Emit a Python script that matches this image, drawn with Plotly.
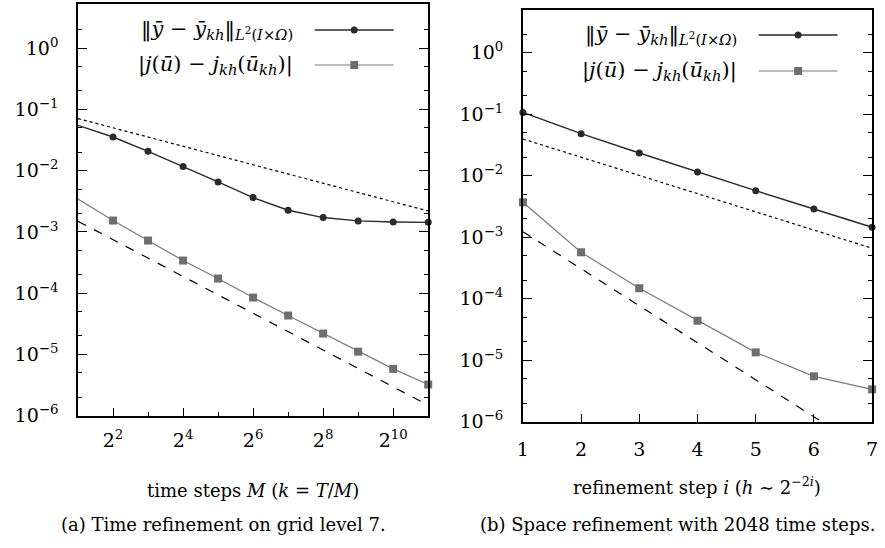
import plotly.graph_objects as go
from plotly.subplots import make_subplots

# ---------------- data ----------------
M_steps = [2, 4, 8, 16, 32, 64, 128, 256, 512, 1024, 2048]
err_y_time = [0.0548, 0.0353, 0.0206, 0.0117, 0.00652, 0.00362, 0.00225,
              0.00171, 0.00151, 0.00145, 0.00143]
err_j_time = [0.00344, 0.00153, 0.000721, 0.000340, 0.000173, 8.47e-5,
              4.31e-5, 2.19e-5, 1.11e-5, 5.81e-6, 3.23e-6]
ref_half_time_x = [2, 2048]
ref_half_time_y = [0.0705, 0.00219]
ref_one_time_x = [2, 2048]
ref_one_time_y = [0.00149, 1.48e-6]

i_steps = [1, 2, 3, 4, 5, 6, 7]
err_y_space = [0.107, 0.0482, 0.0234, 0.0115, 0.00571, 0.00287, 0.00145]
err_j_space = [0.00369, 0.000568, 0.000148, 4.39e-5, 1.34e-5, 5.47e-6, 3.36e-6]
ref_half_space_x = [1, 7]
ref_half_space_y = [0.0395, 0.00066]
ref_one_space_x = [1, 7]
ref_one_space_y = [0.00123, 3.0e-7]

x_time_ticks = [4, 16, 64, 256, 1024]
x_time_ticktext = ["2<sup>2</sup>", "2<sup>4</sup>", "2<sup>6</sup>", "2<sup>8</sup>", "2<sup>10</sup>"]
x_time_minor = [8, 32, 128, 512]
x_space_ticks = [1, 2, 3, 4, 5, 6, 7]
y_ticks = [1e-6, 1e-5, 1e-4, 1e-3, 1e-2, 1e-1, 1]
y_ticktext = ["10<sup>−6</sup>", "10<sup>−5</sup>", "10<sup>−4</sup>", "10<sup>−3</sup>",
              "10<sup>−2</sup>", "10<sup>−1</sup>", "10<sup>0</sup>"]

legend_labels = [
    "‖<i>ȳ</i> − <i>ȳ<sub>kh</sub></i>‖<sub><i>L</i><sup>2</sup>(<i>I</i>×<i>Ω</i>)</sub>",
    "|<i>j</i>(<i>ū</i>) − <i>j<sub>kh</sub></i>(<i>ū<sub>kh</sub></i>)|",
]

FONT = "DejaVu Serif"
C_Y = "#2a2a2a"
C_J = "#6e6e6e"
C_JL = "#7a7a7a"

fig = make_subplots(rows=1, cols=2)

def add_panel(col, x, ey, ej, rhx, rhy, r1x, r1y):
    fig.add_trace(go.Scatter(x=rhx, y=rhy, mode="lines",
                             line=dict(color="black", width=1.2, dash="dot"),
                             showlegend=False, hoverinfo="skip"), row=1, col=col)
    fig.add_trace(go.Scatter(x=r1x, y=r1y, mode="lines",
                             line=dict(color="black", width=1.2, dash="dash"),
                             showlegend=False, hoverinfo="skip"), row=1, col=col)
    fig.add_trace(go.Scatter(x=x, y=ey, mode="lines+markers", name="y",
                             line=dict(color=C_Y, width=1.4),
                             marker=dict(symbol="circle", size=7, color=C_Y),
                             cliponaxis=False, showlegend=False), row=1, col=col)
    fig.add_trace(go.Scatter(x=x, y=ej, mode="lines+markers", name="j",
                             line=dict(color=C_JL, width=1.2),
                             marker=dict(symbol="square", size=8, color=C_J),
                             cliponaxis=False, showlegend=False), row=1, col=col)

add_panel(1, M_steps, err_y_time, err_j_time, ref_half_time_x, ref_half_time_y,
          ref_one_time_x, ref_one_time_y)
add_panel(2, i_steps, err_y_space, err_j_space, ref_half_space_x, ref_half_space_y,
          ref_one_space_x, ref_one_space_y)

W, H = 885, 548          # target picture size (layout fractions use these)
FIG_H = 559              # figure height (picture comes out scaled vertically ~0.98)
L_x = [73 / W, 428 / W]
R_x = [524 / W, 878 / W]
L_y = [1 - 415.7 / H, 1 - 4.3 / H]
R_y = [1 - 421.7 / H, 1 - 10 / H]

minor_y = []
for e in range(-6, 1):
    minor_y += [2 * 10 ** e, 5 * 10 ** e]

common_y = dict(type="log", range=[-6, 0.713], tickvals=y_ticks, ticktext=y_ticktext,
                showline=True, linecolor="black", linewidth=1.6, mirror="ticks",
                ticks="inside", ticklen=9, tickwidth=1.2, tickcolor="black",
                showgrid=False, zeroline=False, ticklabelstandoff=14,
                tickfont=dict(family=FONT, size=19, color="black"),
                minor=dict(tickvals=minor_y, ticks="inside", ticklen=4,
                           tickwidth=1.2, tickcolor="black", showgrid=False))

fig.update_layout(
    width=W, height=FIG_H, margin=dict(l=0, r=0, t=0, b=0),
    paper_bgcolor="white", plot_bgcolor="white",
    font=dict(family=FONT, size=18, color="black"),
    xaxis=dict(domain=L_x, type="log", range=[0.30103, 3.31133],
               tickvals=x_time_ticks, ticktext=x_time_ticktext,
               showline=True, linecolor="black", linewidth=1.6, mirror=True,
               ticks="inside", ticklen=8, tickwidth=1.2, tickcolor="black",
               showgrid=False, zeroline=False, ticklabelstandoff=7,
               tickfont=dict(family=FONT, size=19, color="black"),
               minor=dict(tickvals=x_time_minor, ticks="inside", ticklen=4,
                          tickwidth=1.2, tickcolor="black", showgrid=False)),
    xaxis2=dict(domain=R_x, range=[1, 7], tickvals=x_space_ticks,
                showline=True, linecolor="black", linewidth=1.6, mirror=True,
                ticks="inside", ticklen=8, tickwidth=1.2, tickcolor="black",
                showgrid=False, zeroline=False, ticklabelstandoff=10,
                tickfont=dict(family=FONT, size=19, color="black")),
    yaxis=dict(domain=L_y, **common_y),
    yaxis2=dict(domain=R_y, **{**common_y, "range": [-6, 0.694]}),
)

ann = [
    dict(x=(73 + 428) / 2 / W, y=1 - 490 / H, size=18,
         text="time steps <i>M</i> (<i>k</i> = <i>T</i>/<i>M</i>)"),
    dict(x=(524 + 878) / 2 / W, y=1 - 486 / H, size=18,
         text="refinement step <i>i</i> (<i>h</i> ∼ 2<sup>−2<i>i</i></sup>)"),
    dict(x=220 / W, y=1 - 524 / H, size=18, text="(a) Time refinement on grid level 7."),
    dict(x=681 / W, y=1 - 524 / H, size=18, text="(b) Space refinement with 2048 time steps."),
]
for a in ann:
    sz = a.pop("size")
    fig.add_annotation(xref="paper", yref="paper", showarrow=False,
                       xanchor="center", yanchor="middle",
                       font=dict(family=FONT, size=sz, color="black"), **a)

legend_pos = [
    (293, 313, 393, 353, 30, 65),
    (743, 763, 843, 803, 35, 71),
]
for (tx, l0, l1, mx, y1, y2) in legend_pos:
    for k, (yy, col) in enumerate([(y1, C_Y), (y2, C_J)]):
        fig.add_annotation(xref="paper", yref="paper", showarrow=False,
                           x=tx / W, y=1 - yy / H, xanchor="right", yanchor="middle",
                           text=legend_labels[k],
                           font=dict(family=FONT, size=21, color="black"))
        fig.add_shape(type="line", xref="paper", yref="paper",
                      x0=l0 / W, x1=l1 / W, y0=1 - yy / H, y1=1 - yy / H,
                      line=dict(color=C_Y if k == 0 else C_JL, width=1.4 if k == 0 else 1.2))
        r = 3.5 if k == 0 else 4
        fig.add_shape(type="circle" if k == 0 else "rect", xref="paper", yref="paper",
                      x0=(mx - r) / W, x1=(mx + r) / W,
                      y0=1 - (yy + r) / H, y1=1 - (yy - r) / H,
                      fillcolor=col, line=dict(color=col, width=0))

fig.write_html(
    "out.html",
    config={"displayModeBar": False},
    post_script=(
        "document.documentElement.style.margin='0';"
        "document.documentElement.style.overflow='hidden';"
        "document.body.style.margin='0';document.body.style.padding='0';"
        "document.body.style.overflow='hidden';"
    ),
)
